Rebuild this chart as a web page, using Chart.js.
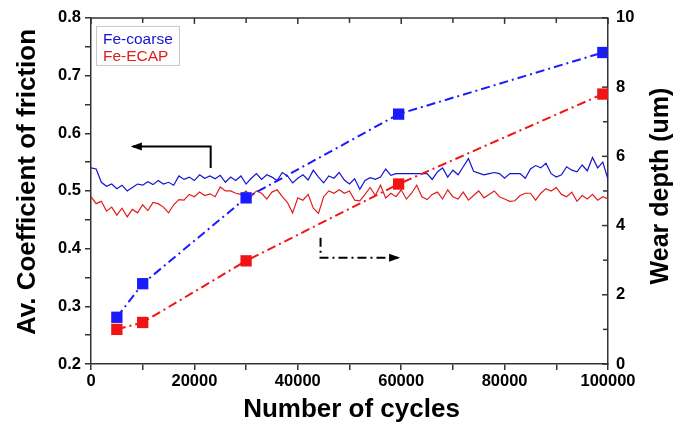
<!DOCTYPE html>
<html>
<head>
<meta charset="utf-8">
<script src="https://cdn.jsdelivr.net/npm/chart.js@4.4.0/dist/chart.umd.min.js"></script>
<style>
  html, body { margin: 0; padding: 0; background: #fff; }
</style>
</head>
<body>
<canvas id="chart1" width="688" height="434"></canvas>
<script>
// friction trace, sampled every 1000 cycles from 0 to 100000
const frictionStep = 1000
const frictionCoarse = [
  0.540, 0.538, 0.515, 0.508, 0.512, 0.504, 0.510, 0.500, 0.506, 0.512,
  0.510, 0.516, 0.511, 0.518, 0.512, 0.515, 0.510, 0.526, 0.520, 0.524,
  0.518, 0.528, 0.522, 0.526, 0.521, 0.527, 0.515, 0.524, 0.518, 0.526,
  0.512, 0.522, 0.530, 0.520, 0.528, 0.524, 0.518, 0.532, 0.526, 0.514,
  0.522, 0.528, 0.519, 0.536, 0.524, 0.514, 0.526, 0.522, 0.532, 0.519,
  0.512, 0.521, 0.503, 0.518, 0.523, 0.520, 0.524, 0.538, 0.527, 0.530,
  0.530, 0.530, 0.530, 0.530, 0.530, 0.530, 0.520, 0.533, 0.540, 0.524,
  0.536, 0.528, 0.542, 0.556, 0.534, 0.531, 0.528, 0.530, 0.532, 0.530,
  0.522, 0.530, 0.530, 0.530, 0.522, 0.538, 0.544, 0.540, 0.548, 0.530,
  0.524, 0.528, 0.542, 0.536, 0.533, 0.545, 0.535, 0.558, 0.540, 0.550,
  0.520
]
const frictionEcap = [
  0.490, 0.478, 0.482, 0.465, 0.472, 0.458, 0.470, 0.455, 0.468, 0.462,
  0.476, 0.466, 0.480, 0.478, 0.472, 0.462, 0.476, 0.485, 0.484, 0.494,
  0.490, 0.498, 0.492, 0.495, 0.490, 0.507, 0.500, 0.500, 0.496, 0.494,
  0.500, 0.490, 0.500, 0.496, 0.486, 0.498, 0.502, 0.490, 0.480, 0.462,
  0.488, 0.484, 0.494, 0.470, 0.461, 0.490, 0.500, 0.496, 0.502, 0.496,
  0.500, 0.484, 0.483, 0.494, 0.506, 0.492, 0.510, 0.488, 0.496, 0.490,
  0.502, 0.486, 0.496, 0.510, 0.490, 0.485, 0.494, 0.498, 0.486, 0.502,
  0.490, 0.486, 0.498, 0.484, 0.492, 0.500, 0.488, 0.494, 0.500, 0.490,
  0.486, 0.482, 0.483, 0.492, 0.496, 0.496, 0.484, 0.496, 0.504, 0.500,
  0.506, 0.494, 0.490, 0.498, 0.482, 0.492, 0.486, 0.494, 0.484, 0.490,
  0.486
]

// wear depth (um)
const wearCycles = [5000, 10000, 30000, 59500, 99000]
const wearCoarse = [1.35, 2.32, 4.8, 7.22, 9.0]
const wearEcap = [1.0, 1.2, 2.98, 5.2, 7.8]

// annotation arrows: [cycles, value] points, last point gets the head
const arrowFriction = [[23150, 0.540], [23150, 0.577], [8100, 0.577]]
const arrowWear = [[44400, 3.65], [44400, 3.07], [59400, 3.07]]

const xTitle = 'Number of cycles'
const yTitle = 'Av. Coefficient of friction'
const y2Title = 'Wear depth (um)'

const FONT = 'Liberation Sans, Arial, sans-serif'
const AXIS = '#333'

function toPoints(xs, ys) {
  return ys.map((y, i) => ({ x: xs[i], y }))
}

const frictionX = frictionCoarse.map((v, i) => i * frictionStep)

function drawArrow(ctx, chart, pts, yId, dash) {
  const sx = chart.scales.x, sy = chart.scales[yId]
  const p = pts.map(([a, b]) => [sx.getPixelForValue(a), sy.getPixelForValue(b)])
  ctx.save()
  ctx.strokeStyle = '#000'
  ctx.fillStyle = '#000'
  ctx.lineWidth = 2
  ctx.setLineDash(dash)
  ctx.beginPath()
  ctx.moveTo(p[0][0], p[0][1])
  p.slice(1).forEach(q => ctx.lineTo(q[0], q[1]))
  ctx.stroke()
  ctx.setLineDash([])
  const [x1, y1] = p[p.length - 2], [x2, y2] = p[p.length - 1]
  const ang = Math.atan2(y2 - y1, x2 - x1)
  ctx.translate(x2, y2)
  ctx.rotate(ang)
  ctx.beginPath()
  ctx.moveTo(2, 0)
  ctx.lineTo(-9, -4)
  ctx.lineTo(-9, 4)
  ctx.closePath()
  ctx.fill()
  ctx.restore()
}

function drawTitle(ctx, text, x, y, size, rotate) {
  ctx.save()
  ctx.font = 'bold ' + size + 'px ' + FONT
  ctx.fillStyle = '#000'
  ctx.textAlign = 'center'
  ctx.textBaseline = 'middle'
  ctx.translate(x, y)
  if (rotate) ctx.rotate(-Math.PI / 2)
  ctx.fillText(text, 0, 0)
  ctx.restore()
}

const framePlugin = {
  id: 'frame',
  afterDraw(chart) {
    const { ctx, chartArea: a, scales } = chart
    ctx.save()
    ctx.strokeStyle = AXIS
    ctx.lineWidth = 1.5
    ctx.beginPath()
    ctx.moveTo(a.left, a.top)
    ctx.lineTo(a.right, a.top)
    ctx.stroke()
    // top ticks, inward
    scales.x.ticks.forEach(t => {
      const px = scales.x.getPixelForValue(t.value)
      const len = t.value % 20000 === 0 ? 6 : 5
      ctx.beginPath()
      ctx.moveTo(px, a.top)
      ctx.lineTo(px, a.top + len)
      ctx.stroke()
    })
    // right ticks, inward
    scales.y2.ticks.forEach(t => {
      const py = scales.y2.getPixelForValue(t.value)
      const len = t.value % 2 === 0 ? 6 : 5
      ctx.beginPath()
      ctx.moveTo(a.right, py)
      ctx.lineTo(a.right - len, py)
      ctx.stroke()
    })

    // legend box
    const bx = a.left + 5, by = a.top + 8
    ctx.fillStyle = '#fff'
    ctx.strokeStyle = '#c8c8c8'
    ctx.lineWidth = 1
    ctx.fillRect(bx, by, 83, 39)
    ctx.strokeRect(bx + 0.5, by + 0.5, 83, 39)
    ctx.font = '15.5px ' + FONT
    ctx.textBaseline = 'alphabetic'
    const legendSets = chart.data.datasets.filter(d => d.inLegend)
    legendSets.forEach((d, i) => {
      ctx.fillStyle = d.borderColor
      ctx.fillText(d.label, bx + 7, by + 18 + i * 17)
    })
    ctx.restore()

    drawArrow(ctx, chart, arrowFriction, 'y', [])
    drawArrow(ctx, chart, arrowWear, 'y2', [9, 4, 2, 4])

    drawTitle(ctx, xTitle, (a.left + a.right) / 2 + 2, 410, 26, false)
    drawTitle(ctx, yTitle, 28, 182, 26, true)
    drawTitle(ctx, y2Title, 661, 186, 25, true)
  }
}

const data = {
  datasets: [
    {
      label: 'Fe-coarse wear',
      data: toPoints(wearCycles, wearCoarse),
      yAxisID: 'y2',
      borderColor: '#1a1aff',
      backgroundColor: '#1a1aff',
      borderWidth: 2,
      borderDash: [9, 4, 2, 4],
      pointStyle: 'rect',
      pointRadius: 8,
      pointBorderWidth: 0
    },
    {
      label: 'Fe-ECAP wear',
      data: toPoints(wearCycles, wearEcap),
      yAxisID: 'y2',
      borderColor: '#f01414',
      backgroundColor: '#f01414',
      borderWidth: 2,
      borderDash: [9, 4, 2, 4],
      pointStyle: 'rect',
      pointRadius: 8,
      pointBorderWidth: 0
    },
    {
      label: 'Fe-coarse',
      inLegend: true,
      data: toPoints(frictionX, frictionCoarse),
      yAxisID: 'y',
      borderColor: '#1414d2',
      borderWidth: 1.2,
      pointRadius: 0
    },
    {
      label: 'Fe-ECAP',
      inLegend: true,
      data: toPoints(frictionX, frictionEcap),
      yAxisID: 'y',
      borderColor: '#e01e1e',
      borderWidth: 1.2,
      pointRadius: 0
    }
  ]
}

const tickFont = { family: FONT, size: 16.5, weight: 'bold' }

const options = {
  responsive: false,
  animation: false,
  layout: { padding: { top: 15, left: 0, right: 0, bottom: 0 } },
  plugins: { legend: { display: false }, tooltip: { enabled: false } },
  scales: {
    x: {
      type: 'linear',
      min: 0,
      max: 100000,
      border: { color: AXIS, width: 1.5 },
      grid: { drawOnChartArea: false, color: AXIS, tickLength: 6, lineWidth: 1.5 },
      ticks: {
        stepSize: 10000,
        color: '#000',
        font: tickFont,
        padding: 2,
        maxRotation: 0,
        autoSkip: false,
        callback: v => (v % 20000 === 0 ? String(v) : '')
      },
      afterFit: s => { s.height = 70 }
    },
    y: {
      position: 'left',
      min: 0.2,
      max: 0.8,
      border: { color: AXIS, width: 1.5 },
      grid: { drawOnChartArea: false, color: AXIS, tickLength: 6, lineWidth: 1.5 },
      ticks: {
        stepSize: 0.05,
        color: '#000',
        font: tickFont,
        padding: 4,
        autoSkip: false,
        callback: v => (Math.round(v * 100) % 10 === 0 ? v.toFixed(1) : '')
      },
      afterFit: s => { s.width = 91 }
    },
    y2: {
      position: 'right',
      min: 0,
      max: 10,
      border: { color: AXIS, width: 1.5 },
      grid: { drawOnChartArea: false, drawTicks: false },
      ticks: {
        stepSize: 1,
        color: '#000',
        font: tickFont,
        padding: 8,
        autoSkip: false,
        callback: v => (v % 2 === 0 ? String(v) : '')
      },
      afterFit: s => { s.width = 80 }
    }
  }
}

new Chart('chart1', { type: 'line', data, options, plugins: [framePlugin] })
</script>
</body>
</html>
